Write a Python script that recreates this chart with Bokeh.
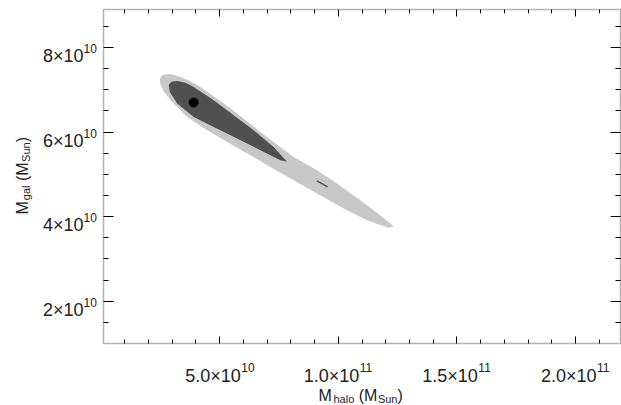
import numpy as np
from bokeh.plotting import figure
from bokeh.models import Range1d, FixedTicker, LinearAxis, Label, BoxAnnotation
from bokeh.embed import file_html
from bokeh.resources import INLINE

UNIT = 1e10  # contour coordinates below are in units of 1e10 M_Sun

# outer (light) confidence region
outer_x = [2.473, 2.515, 2.641, 2.923, 3.345, 3.766, 4.187, 4.890, 5.733, 6.714,
           7.557, 8.117, 9.103, 9.945, 10.927, 11.769, 12.190, 12.329, 12.106,
           11.209, 10.223, 9.103, 8.117, 7.136, 6.293, 5.312, 4.469, 3.627,
           2.923, 2.628, 2.502]
outer_y = [7.227, 7.310, 7.362, 7.374, 7.305, 7.203, 7.069, 6.794, 6.440, 6.005,
           5.650, 5.414, 5.099, 4.785, 4.390, 4.036, 3.846, 3.759, 3.740,
           3.917, 4.194, 4.549, 4.863, 5.177, 5.454, 5.768, 6.045, 6.359,
           6.754, 6.967, 7.132]

# inner (dark) confidence region
inner_x = [2.852, 2.966, 3.206, 3.555, 3.905, 4.747, 5.590, 6.432, 7.275, 7.839,
           7.557, 6.714, 5.733, 4.747, 3.905, 3.206, 2.894]
inner_y = [7.121, 7.192, 7.210, 7.168, 7.069, 6.754, 6.400, 6.045, 5.650, 5.296,
           5.336, 5.572, 5.849, 6.123, 6.359, 6.676, 6.950]

# small inner island
island_x = [9.10, 9.55]
island_y = [4.846, 4.705]

# best fit point
best_x = [3.9]
best_y = [6.7]

# axes
x_lo, x_hi = 1.0e9, 2.19e11
y_lo, y_hi = 1.0e10, 8.9e10
x_major = [5e10, 1e11, 1.5e11, 2e11]
x_base = ["5.0×10", "1.0×10", "1.5×10", "2.0×10"]
x_exp = ["10", "11", "11", "11"]
x_minor = [1e10, 2e10, 3e10, 4e10, 6e10, 7e10, 8e10, 9e10, 1.1e11, 1.2e11, 1.3e11,
           1.4e11, 1.6e11, 1.7e11, 1.8e11, 1.9e11, 2.1e11]
y_major = [2e10, 4e10, 6e10, 8e10]
y_base = ["2×10", "4×10", "6×10", "8×10"]
y_exp = ["10", "10", "10", "10"]
y_minor = [1.5e10, 2.5e10, 3e10, 3.5e10, 4.5e10, 5e10, 5.5e10, 6.5e10, 7e10, 7.5e10,
           8.5e10]

FONT = "Liberation Sans"
TXT = "#222222"

# layout: the plot box inside the canvas (pixels)
W, H = 621, 405
BOX_L, BOX_R, BOX_T, BOX_B = 103, 620, 9, 343
xs = (x_hi - x_lo) / (BOX_R - BOX_L)
ys = (y_hi - y_lo) / (BOX_B - BOX_T)
xr = Range1d(x_lo - BOX_L * xs, x_hi + (W - BOX_R) * xs)
yr = Range1d(y_lo - (H - BOX_B) * ys, y_hi + BOX_T * ys)

p = figure(width=W, height=H, x_range=xr, y_range=yr,
           x_axis_type=None, y_axis_type=None, output_backend="svg", toolbar_location=None,
           min_border=0, min_border_left=0, min_border_right=0, min_border_top=0,
           min_border_bottom=0)
p.outline_line_color = None
p.background_fill_color = "white"
p.border_fill_color = "white"

def make_axis(ticks, minor, major_len, minor_len, loc):
    ax = LinearAxis(ticker=FixedTicker(ticks=ticks, minor_ticks=minor), fixed_location=loc)
    ax.major_label_overrides = {t: "" for t in ticks}
    ax.major_label_text_font_size = "0px"
    ax.major_label_standoff = 0
    ax.major_tick_in = major_len
    ax.major_tick_out = 0
    ax.minor_tick_in = minor_len
    ax.minor_tick_out = 0
    ax.axis_line_color = None
    ax.major_tick_line_color = "black"
    ax.minor_tick_line_color = "black"
    ax.major_tick_line_width = 1
    ax.minor_tick_line_width = 1
    return ax

p.add_layout(make_axis(x_major, x_minor, 7, 4, y_lo), "below")
p.add_layout(make_axis(x_major, x_minor, 7, 4, y_hi), "above")
p.add_layout(make_axis(y_major, y_minor, 10, 5, x_lo), "left")
p.add_layout(make_axis(y_major, y_minor, 10, 5, x_hi), "right")

p.patch(np.array(outer_x) * UNIT, np.array(outer_y) * UNIT, fill_color="#c8c8c8",
        line_color=None)
p.patch(np.array(inner_x) * UNIT, np.array(inner_y) * UNIT, fill_color="#505050",
        line_color=None)
p.line(np.array(island_x) * UNIT, np.array(island_y) * UNIT, line_color="#505050",
       line_width=1.5)
p.scatter(np.array(best_x) * UNIT, np.array(best_y) * UNIT, size=9, color="black")

p.add_layout(BoxAnnotation(left=x_lo, right=x_hi, bottom=y_lo, top=y_hi,
                           fill_alpha=0, line_color="black", line_width=1.5))

# tick labels
for t, b, e in zip(x_major, x_base, x_exp):
    p.add_layout(Label(x=t, y=y_lo, text=b, text_font=FONT, text_font_size="18px",
                       text_color=TXT, text_align="right", text_baseline="alphabetic",
                       x_offset=21, y_offset=-32))
    p.add_layout(Label(x=t, y=y_lo, text=e, text_font=FONT, text_font_size="12px",
                       text_color=TXT, text_align="left", text_baseline="alphabetic",
                       x_offset=21.5, y_offset=-23.7))
for t, b, e in zip(y_major, y_base, y_exp):
    p.add_layout(Label(x=x_lo, y=t, text=b, text_font=FONT, text_font_size="18px",
                       text_color=TXT, text_align="right", text_baseline="alphabetic",
                       x_offset=-20, y_offset=-8.7))
    p.add_layout(Label(x=x_lo, y=t, text=e, text_font=FONT, text_font_size="12px",
                       text_color=TXT, text_align="right", text_baseline="alphabetic",
                       x_offset=-6.6, y_offset=-1))

# axis titles (main text + subscripts), offsets in pixels from the box corner
x_title = [("M", 215, -52, "16px"), ("halo", 230, -55.5, "11px"),
           ("(M", 255.2, -52, "16px"), ("Sun", 274.4, -55.5, "11px"),
           (")", 294, -52, "16px")]
for txt, dx, dy, fs in x_title:
    p.add_layout(Label(x=x_lo, y=y_lo, text=txt, text_font=FONT, text_font_size=fs,
                       text_color=TXT, text_align="left", text_baseline="alphabetic",
                       x_offset=dx, y_offset=dy))

y_title = [("M", -81.5, 129, "16px"), ("gal", -78, 143.3, "11px"),
           ("(M", -81.5, 162.4, "16px"), ("Sun", -78, 181.6, "11px"),
           (")", -81.5, 201.2, "16px")]
for txt, dx, dy, fs in y_title:
    p.add_layout(Label(x=x_lo, y=y_lo, text=txt, text_font=FONT, text_font_size=fs,
                       text_color=TXT, text_align="left", text_baseline="alphabetic",
                       x_offset=dx, y_offset=dy, angle=90, angle_units="deg"))

open("out.html", "w").write(file_html(p, INLINE))
